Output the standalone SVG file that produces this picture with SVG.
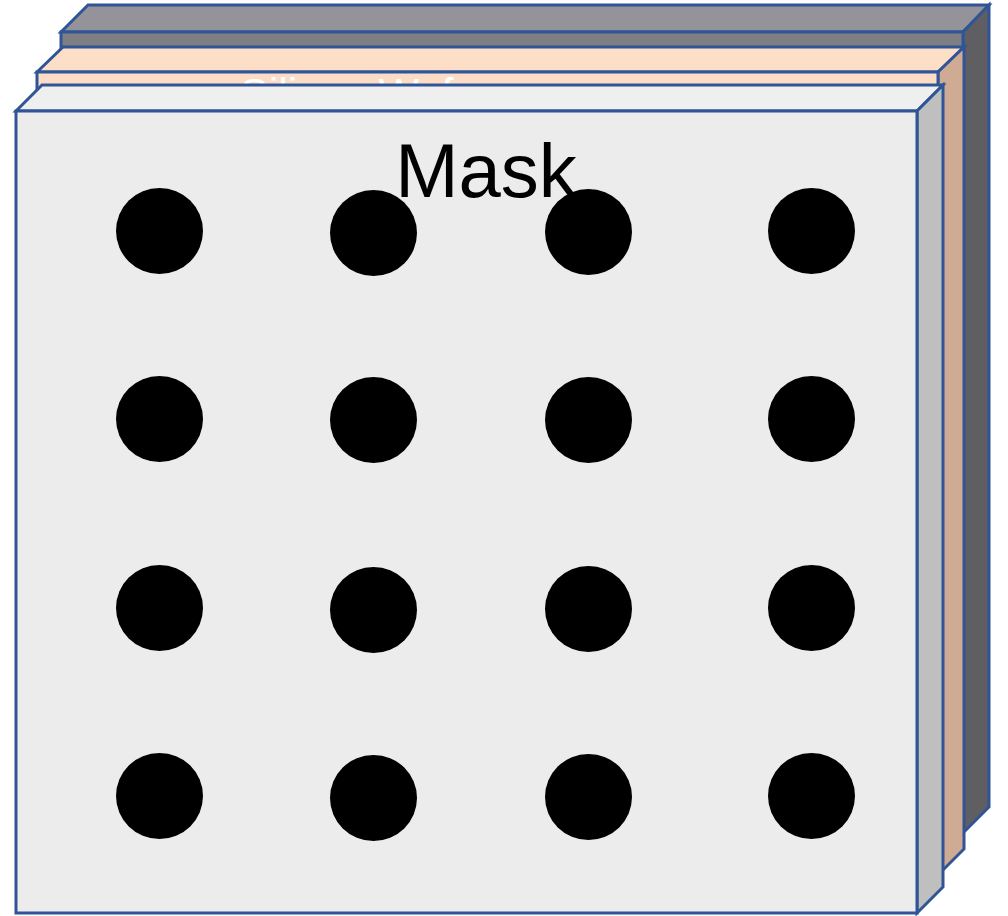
<svg xmlns="http://www.w3.org/2000/svg" width="1008" height="916" viewBox="0 0 1008 916">
<style>
.e{stroke:#2f5597;stroke-width:3;stroke-linejoin:miter}
.dot{fill:#000}
</style>
<rect width="1008" height="916" fill="#fff"/>
<g id="substrate">
<polygon class="e" fill="#949399" points="61,32 88,5 989,5 963,32"/>
<polygon class="e" fill="#5f5e63" points="963,32 989,5 989,807 963,833"/>
<rect class="e" fill="#7f7f83" x="61" y="32" width="902" height="801"/>
</g>
<g id="silicon-wafer">
<polygon class="e" fill="#fddec7" points="37,72 63,47 964,47 938,72"/>
<polygon class="e" fill="#cfab94" points="938,72 964,47 964,849 938,875"/>
<rect class="e" fill="#fddcc5" x="37" y="72" width="901" height="803"/>
<text x="240" y="108" font-family="Liberation Sans, Arial, sans-serif" font-size="43" fill="#ffffff">Silicon Wafer</text>
</g>
<g id="mask">
<polygon class="e" fill="#efefef" points="16,111 42,85 943,85 917,111"/>
<polygon class="e" fill="#bfbfbf" points="917,111 943,85 943,887 917,913"/>
<rect class="e" fill="#ececec" x="16" y="111" width="901" height="802"/>
<text x="486" y="197" text-anchor="middle" font-family="Liberation Sans, Arial, sans-serif" font-size="76" fill="#000">Mask</text>
<g id="holes">
<ellipse class="dot" cx="159.5" cy="231" rx="43.5" ry="43"/>
<ellipse class="dot" cx="373.5" cy="233" rx="43.5" ry="43"/>
<ellipse class="dot" cx="588.5" cy="232" rx="43.5" ry="43"/>
<ellipse class="dot" cx="811.5" cy="231" rx="43.5" ry="43"/>
<ellipse class="dot" cx="159.5" cy="419" rx="43.5" ry="43"/>
<ellipse class="dot" cx="373.5" cy="420" rx="43.5" ry="43"/>
<ellipse class="dot" cx="588.5" cy="420" rx="43.5" ry="43"/>
<ellipse class="dot" cx="811.5" cy="419" rx="43.5" ry="43"/>
<ellipse class="dot" cx="159.5" cy="608" rx="43.5" ry="43"/>
<ellipse class="dot" cx="373.5" cy="610" rx="43.5" ry="43"/>
<ellipse class="dot" cx="588.5" cy="609" rx="43.5" ry="43"/>
<ellipse class="dot" cx="811.5" cy="608" rx="43.5" ry="43"/>
<ellipse class="dot" cx="159.5" cy="796" rx="43.5" ry="43"/>
<ellipse class="dot" cx="373.5" cy="798" rx="43.5" ry="43"/>
<ellipse class="dot" cx="588.5" cy="797" rx="43.5" ry="43"/>
<ellipse class="dot" cx="811.5" cy="796" rx="43.5" ry="43"/>
</g>
</g>
</svg>
